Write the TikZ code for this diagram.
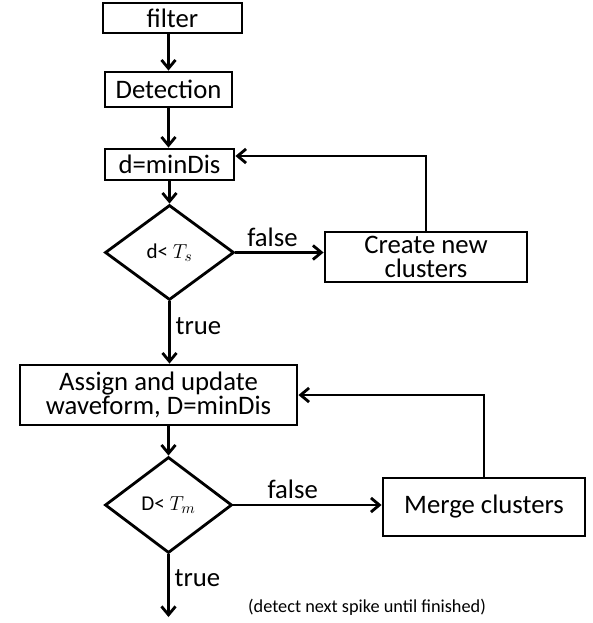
\documentclass[tikz,border=0pt]{standalone}
\usepackage{fontspec}
\setmainfont{Carlito}
\usepackage{tikz}
\usetikzlibrary{shapes,shapes.geometric,arrows.meta,positioning,calc}

\begin{document}
\begin{tikzpicture}[
    x=0.025cm, y=-0.025cm,
    font=\fontsize{19}{16}\selectfont,
    box/.style={rectangle, draw, line width=2pt, inner sep=1pt, align=center},
    decision/.style={diamond, draw, line width=2pt, inner sep=0pt, font=\fontsize{15}{17}\selectfont},
    arrow/.style={-{Straight Barb[length=6pt,width=10pt]}, line width=2pt},
    lbl/.style={font=\fontsize{19}{21}\selectfont}
]
    \useasboundingbox (0,0) rectangle (592,623);

    % Preprocessing
    \node[box, minimum width=3.475cm, minimum height=0.75cm] (filter) at (172.5,18) {filter};
    \node[box, minimum width=3.175cm, minimum height=0.875cm] (detect) at (168.5,89.5) {Detection};
    \node[box, minimum width=3.225cm, minimum height=0.775cm] (dmin) at (169.5,164.5) {d=minDis};

    % First threshold
    \node[decision, minimum width=3.225cm, minimum height=2.375cm] (ts) at (169.5,252.5) {d< $T_s$};
    \node[box, minimum width=5.05cm, minimum height=1.25cm, font=\fontsize{19}{17.5}\selectfont] (newcl) at (426,257) {Create new\\clusters};

    % Assignment
    \node[box, minimum width=6.925cm, minimum height=1.5cm] (assign) at (158.5,395) {Assign and update\\waveform, D=minDis};

    % Second threshold
    \node[decision, minimum width=3.175cm, minimum height=2.4cm] (tm) at (168.5,505) {D< $T_m$};
    \node[box, minimum width=5.05cm, minimum height=1.45cm] (merge) at (484,507) {Merge clusters};

    % Loop end
    \coordinate (next) at (168.5,617);
    \node[font=\fontsize{13}{15}\selectfont] (note) at (367,607) {(detect next spike until finished)};

    % Main flow
    \draw[arrow] (filter.south -| detect.north) -- (detect.north);
    \draw[arrow] (detect.south) -- (detect.south |- dmin.north);
    \draw[arrow] (dmin.south -| ts.north) -- (ts.north);
    \draw[arrow] (ts.east) -- node[lbl, above, pos=0.42] {false} (ts.east -| newcl.west);
    \draw[arrow] (ts.south) -- node[lbl, right, pos=0.4] {true} (ts.south |- assign.north);
    \draw[arrow] (assign.south -| tm.north) -- (tm.north);
    \draw[arrow] (tm.east) -- node[lbl, above, pos=0.4] {false} (tm.east -| merge.west);
    \draw[arrow] (tm.south) -- node[lbl, right, pos=0.38] {true} (next);

    % Feedback
    \draw[arrow] (newcl.north) |- ([yshift=0.2125cm]dmin.east);
    \draw[arrow] (merge.north) |- (assign.east);
\end{tikzpicture}
\end{document}
